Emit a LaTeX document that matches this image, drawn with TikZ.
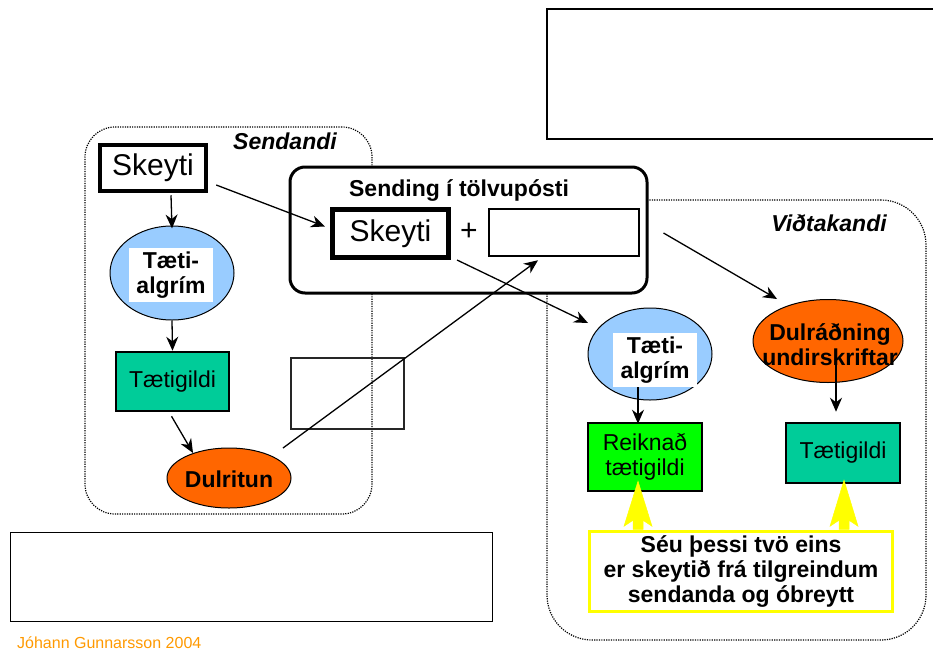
\documentclass[tikz,border=0pt]{standalone}
\usepackage{fontspec}
\setmainfont{Liberation Sans}
\usetikzlibrary{shapes.geometric,arrows.meta,calc}
\definecolor{lblue}{HTML}{99CCFF}
\definecolor{teal2}{HTML}{00CC99}
\definecolor{orng}{HTML}{FF6600}
\definecolor{grn}{HTML}{00FF00}
\definecolor{yel}{HTML}{FFFF00}
\definecolor{foot}{HTML}{FF9900}
\begin{document}
\begin{tikzpicture}[x=1pt,y=-1pt,
  bigtxt/.style={font=\fontsize{30}{32}\selectfont},
  regtxt/.style={font=\fontsize{23}{25}\selectfont},
  boldtxt/.style={font=\fontsize{23}{25}\selectfont\bfseries},
  bitxt/.style={font=\fontsize{23}{25}\selectfont\bfseries\itshape},
  thickbox/.style={draw, line width=4.5pt, fill=white, inner sep=0pt, bigtxt},
  colbox/.style={draw, line width=2.5pt, inner sep=0pt, regtxt, align=center},
  ell/.style={draw, ellipse, line width=1pt, inner sep=0pt},
  lab/.style={fill=white, inner sep=0pt, boldtxt, align=center, minimum width=84, minimum height=54},
  frame/.style={draw, line width=1.2pt, dash pattern=on 1.2pt off 1.2pt, rounded corners=#1, inner sep=0pt},
  emptybox/.style={draw, line width=2pt, inner sep=0pt},
  arr/.style={draw, line width=1.3pt, -{Stealth[length=14pt,width=12pt,inset=4.5pt]}},
  yarrow/.style={fill=yel, draw=yel, line width=0.5pt}
]
\useasboundingbox (0,0) rectangle (933,653);

% frames
\node[frame=30, minimum width=287, minimum height=387] (sendandi) at (228.5,320.5) {};
\node[frame=45, minimum width=379, minimum height=440] (vidt) at (736.5,420) {};
\node[bitxt] (sendlab) at (285,141) {Sendandi};
\node[bitxt] (vidlab) at (829,223) {Viðtakandi};

% top right and bottom left empty boxes
\node[draw, line width=2.2pt, inner sep=0pt, minimum width=420, minimum height=130, anchor=north west] (topbox) at (546,8) {};
\node[draw, line width=1.3pt, inner sep=0pt, minimum width=482, minimum height=89, anchor=north west] (botbox) at (10,532) {};

% sender side
\node[thickbox, minimum width=106, minimum height=46] (skeyA) at (153,168) {Skeyti};
\node[ell, fill=lblue, minimum width=124, minimum height=94] (ellA) at (172,273) {};
\node[lab] (labA) at (171,275) {Tæti-\\algrím};
\node[colbox, fill=teal2, minimum width=113, minimum height=59] (tgA) at (172.5,381.5) {Tætigildi};
\node[ell, fill=orng, minimum width=124, minimum height=60] (dulA) at (229,478) {};
\node[boldtxt] (dulAt) at (229,479) {Dulritun};
\node[emptybox, draw=black!85, minimum width=113, minimum height=71] (emptyA) at (347.5,393.5) {};

% sending box
\node[draw, line width=3pt, fill=white, rounded corners=15, inner sep=0pt, minimum width=357, minimum height=126] (send) at (468.5,230) {};
\node[boldtxt] (sendt) at (459,190) {Sending í tölvupósti};
\node[thickbox, line width=5pt, minimum width=116, minimum height=48] (skeyB) at (390.5,233.5) {Skeyti};
\node[bigtxt] (plus) at (469,232) {+};
\node[emptybox, line width=2.5pt, minimum width=150, minimum height=47] (emptyB) at (564,232.5) {};

% receiver side
\node[ell, fill=lblue, minimum width=124, minimum height=92] (ellB) at (650,354) {};
\node[lab] (labB) at (655,360) {Tæti-\\algrím};
\node[colbox, fill=grn, minimum width=114, minimum height=68] (reik) at (645,457) {Reiknað\\tætigildi};
\node[ell, fill=orng, minimum width=150, minimum height=83] (ellC) at (828,341) {};
\node[boldtxt, align=center] (ellCt) at (830,345) {Dulráðning\\undirskriftar};
\node[colbox, fill=teal2, minimum width=114, minimum height=60] (tgB) at (843,453) {Tætigildi};
\node[draw=yel, line width=3.5pt, fill=white, inner sep=0pt, minimum width=303, minimum height=80, boldtxt, align=center] (yel) at (741,571.5) {Séu þessi tvö eins\\er skeytið frá tilgreindum\\sendanda og óbreytt};

% yellow arrows
\draw[yarrow] ([shift={(-103,-48.5)}]yel.north) -- ++(14,45) -- ++(-9,-6) -- ++(0,9) -- ++(-10,0) -- ++(0,-9) -- ++(-9,6) -- cycle;
\draw[yarrow] ([shift={(103,-49.5)}]yel.north) -- ++(14,46) -- ++(-9,-6) -- ++(0,9) -- ++(-10,0) -- ++(0,-9) -- ++(-9,6) -- cycle;

% connectors
\draw[arr] ([shift={(8,17)}]skeyA.east) -- ([shift={(-5,-7)}]skeyB.west);
\draw[arr] ([shift={(18,2)}]skeyA.south) -- ([yshift=-3]ellA.north);
\draw[arr] (ellA.south) -- (tgA.north);
\draw[arr] ([shift={(-1,4)}]tgA.south) -- ([shift={(-36,-25)}]dulA.center);
\draw[arr] ([shift={(54,-30)}]dulA.center) -- ([shift={(-26,3)}]emptyB.south);
\draw[arr] ([shift={(6,0)}]skeyB.south east) -- ([shift={(-62,-31)}]ellB.center);
\draw[arr] ([shift={(15,3)}]send.east) -- ([shift={(-51,0)}]ellC.north);
\draw[arr] ([xshift=-17]labB.south) -- ([xshift=-7,yshift=-2]reik.north);
\draw[arr] ([shift={(8,21)}]ellC.center) -- ([shift={(-7,-10)}]tgB.north);

% footer
\node[anchor=west, text=foot, font=\fontsize{16}{18}\selectfont, inner sep=0pt] (footer) at (17,643) {Jóhann Gunnarsson 2004};
\end{tikzpicture}
\end{document}
